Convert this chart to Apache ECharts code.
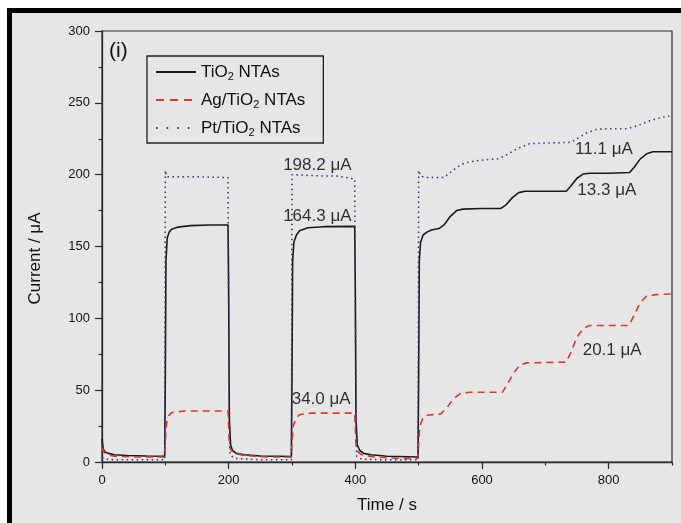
<!DOCTYPE html>
<html>
<head>
<meta charset="utf-8">
<script src="https://cdn.jsdelivr.net/npm/echarts@6/dist/echarts.min.js"></script>
<style>
  body { margin: 0; background: #fff; overflow: hidden; }
  #frame {
    position: absolute; left: 7px; top: 8px; width: 700px; height: 540px;
    border-left: 5px solid #000; border-top: 5px solid #000; background: #e6e6e6;
  }
  #chart { position: absolute; left: 0; top: 0; width: 681px; height: 523px; }
</style>
</head>
<body>
<div id="frame"></div>
<div id="chart"></div>
<script>
// 数据 (时间 s, 电流 μA)
const tio2 = [
  [0, 16], [2, 9], [5, 7], [10, 6], [20, 5], [40, 4.5], [70, 4.2], [99, 4],
  [100, 60], [101, 140], [103, 156], [106, 160], [110, 162], [120, 163.5], [140, 164.5], [170, 165], [199, 165],
  [200, 120], [201, 30], [203, 12], [206, 8], [212, 6], [225, 5], [250, 4.2], [299, 3.8],
  [300, 60], [301, 140], [303, 153], [307, 158], [312, 161], [325, 163], [350, 163.8], [399, 164],
  [400, 120], [401, 30], [403, 12], [407, 8], [413, 6], [425, 5], [450, 4], [499, 3.5],
  [500, 60], [501, 140], [503, 153], [507, 158], [513, 160], [520, 161.5], [532, 162.5],
  [540, 165], [550, 171], [560, 175], [570, 176], [600, 176.5], [630, 176.5],
  [638, 179], [648, 184], [658, 187.5], [668, 188.5], [700, 188.5], [733, 188.5],
  [740, 192], [750, 197.5], [760, 200.5], [770, 201], [800, 201], [833, 201.5],
  [840, 205], [850, 211], [860, 214.5], [870, 216], [900, 216]
];
const agTio2 = [
  [0, 10], [3, 7], [8, 5], [20, 4], [50, 3.5], [99, 3.5],
  [100, 15], [102, 27], [105, 32], [110, 34.5], [130, 35.5], [199, 35.5],
  [200, 25], [201, 12], [204, 8], [210, 6], [225, 4.5], [260, 3.5], [299, 3.5],
  [300, 14], [302, 25], [306, 30], [312, 33], [330, 34], [399, 34],
  [400, 24], [401, 12], [404, 7], [410, 5], [430, 3.5], [470, 2.5], [499, 2.5],
  [500, 14], [502, 25], [506, 30], [512, 32.5], [535, 33.5],
  [545, 38], [555, 44], [565, 47.5], [580, 48.5], [632, 48.5],
  [640, 54], [650, 62], [660, 67.5], [670, 69], [733, 69.5],
  [740, 76], [750, 87], [760, 93], [770, 95], [832, 95],
  [840, 102], [850, 111], [860, 115.5], [875, 116.5], [900, 117]
];
const ptTio2 = [
  [0, 3], [5, 2], [20, 1.5], [99, 1.5],
  [100, 203], [102, 198.5], [150, 198.5], [199, 198],
  [200, 100], [202, 5], [210, 2.5], [250, 1.5], [299, 1.5],
  [300, 200], [303, 199.5], [350, 199], [370, 199], [385, 198], [399, 197],
  [400, 100], [402, 4], [410, 2], [450, 1.5], [499, 1.5],
  [500, 203], [503, 199], [512, 198], [540, 198],
  [550, 201.5], [560, 205], [572, 208], [588, 209.5], [610, 210.5], [625, 211],
  [640, 214], [655, 218], [675, 221.5], [700, 222], [740, 222.5],
  [750, 225], [765, 229], [780, 231.5], [800, 232], [830, 232],
  [845, 234], [865, 237.5], [885, 240], [900, 241]
];
// 标注
const noteText = ['198.2 μA', '164.3 μA', '34.0 μA', '11.1 μA', '13.3 μA', '20.1 μA'];
const noteT = [286, 286, 299.5, 747, 750.5, 759];
const noteV = [206.7, 171, 43.8, 217.9, 189, 78];
const xTicks = [0, 200, 400, 600, 800];

const legendNames = {
  'TiO2 NTAs': '{a|TiO}{s|2}{a| NTAs}',
  'Ag/TiO2 NTAs': '{a|Ag/TiO}{s|2}{a| NTAs}',
  'Pt/TiO2 NTAs': '{a|Pt/TiO}{s|2}{a| NTAs}'
};
const FONT = 'Liberation Sans, Arial, sans-serif';
const axisCol = '#2a2a2a';

const option = {
  animation: false,
  textStyle: { fontFamily: FONT },
  title: {
    text: '(i)', left: 104, top: 36,
    textStyle: { fontSize: 21, fontWeight: 'normal', color: '#111', fontFamily: FONT }
  },
  grid: {
    left: 102, top: 31, right: 9, bottom: 61,
    show: true, borderColor: axisCol, borderWidth: 1.2, backgroundColor: 'transparent'
  },
  legend: {
    orient: 'vertical', left: 147, top: 56,
    borderColor: '#222', borderWidth: 1.3, padding: [6, 18, 5, 8],
    itemWidth: 40, itemHeight: 14, itemGap: 8,
    itemStyle: { color: 'transparent', borderColor: 'transparent', borderWidth: 0 },
    formatter: (n) => legendNames[n],
    textStyle: {
      rich: {
        a: { fontSize: 17, color: '#111', fontFamily: FONT, lineHeight: 21 },
        s: { fontSize: 11, color: '#111', fontFamily: FONT, lineHeight: 21, padding: [9, 0, 0, 0] }
      }
    },
    data: [
      { name: 'TiO2 NTAs' },
      { name: 'Ag/TiO2 NTAs', lineStyle: { type: [8, 6] } },
      { name: 'Pt/TiO2 NTAs', lineStyle: { type: [1.6, 9], color: '#333' } }
    ]
  },
  xAxis: [
    {
      type: 'value', min: 0, max: 900, interval: 200,
      name: 'Time / s', nameLocation: 'middle', nameGap: 35,
      nameTextStyle: { fontSize: 17, color: '#111', fontFamily: FONT },
      axisLine: { lineStyle: { color: axisCol, width: 1.3 } },
      axisTick: { inside: false, length: 7, customValues: xTicks, lineStyle: { color: axisCol, width: 1.2 } },
      axisLabel: { fontSize: 13, color: '#111', margin: 12, customValues: xTicks },
      splitLine: { show: false }
    },
    {
      type: 'value', min: 0, max: 900, interval: 100, position: 'bottom',
      axisLine: { show: false },
      axisTick: { inside: false, length: 3.5, lineStyle: { color: axisCol, width: 1.2 } },
      axisLabel: { show: false },
      splitLine: { show: false }
    }
  ],
  yAxis: {
    type: 'value', min: 0, max: 300, interval: 50,
    name: 'Current / μA', nameLocation: 'middle', nameGap: 58,
    nameTextStyle: { fontSize: 17, color: '#111', fontFamily: FONT, padding: [0, 24, 0, 0] },
    axisLine: { show: true, lineStyle: { color: axisCol, width: 1.3 } },
    axisTick: { show: true, inside: false, length: 7, lineStyle: { color: axisCol, width: 1.2 } },
    minorTick: { show: true, splitNumber: 2, length: 3.5, lineStyle: { color: axisCol, width: 1.2 } },
    axisLabel: { fontSize: 13, color: '#111', margin: 12 },
    splitLine: { show: false }
  },
  series: [
    {
      name: 'TiO2 NTAs', type: 'line', data: tio2, symbol: 'none',
      lineStyle: { color: '#1a1a1a', width: 1.6 }, itemStyle: { color: '#1a1a1a' }
    },
    {
      name: 'Ag/TiO2 NTAs', type: 'line', data: agTio2, symbol: 'none',
      lineStyle: { color: '#dd3b22', width: 1.6, type: [7, 5] }, itemStyle: { color: '#dd3b22' }
    },
    {
      name: 'Pt/TiO2 NTAs', type: 'line', data: ptTio2, symbol: 'none',
      lineStyle: { color: '#2e3288', width: 1.5, type: [1.5, 3.5] }, itemStyle: { color: '#2e3288' }
    },
    {
      name: 'notes', type: 'scatter', symbolSize: 0, silent: true,
      data: noteText.map((t, i) => [noteT[i], noteV[i], t]),
      label: {
        show: true, position: 'right', distance: 0,
        formatter: (p) => p.data[2],
        fontSize: 17, color: '#000', fontFamily: FONT
      }
    }
  ]
};

const chart = echarts.init(document.getElementById('chart'));
chart.setOption(option);
</script>
</body>
</html>
